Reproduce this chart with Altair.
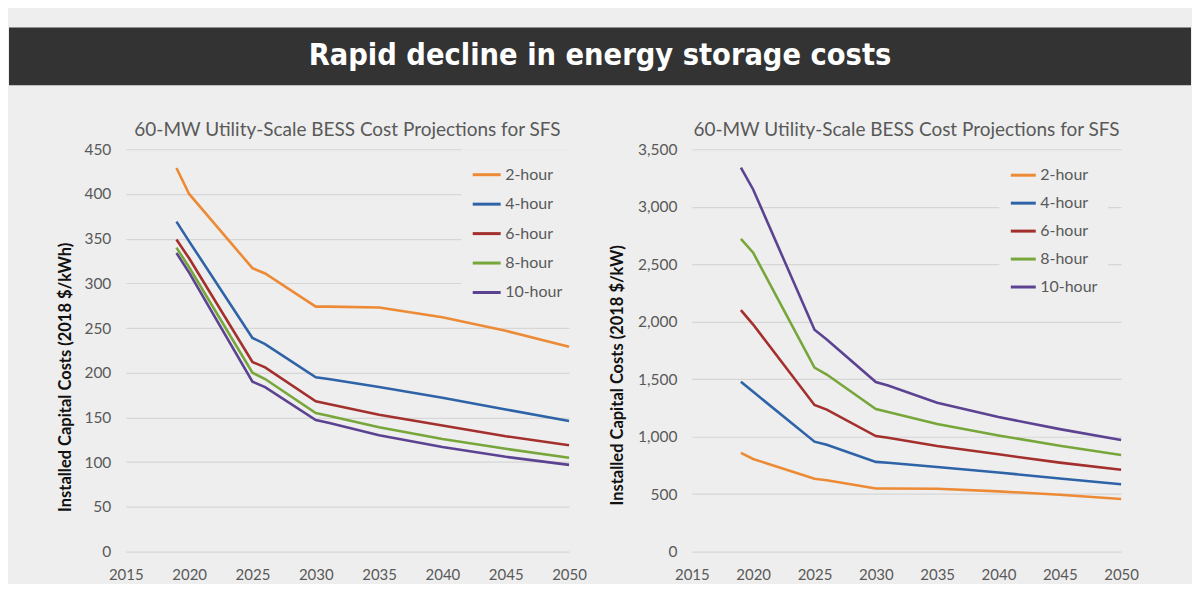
import altair as alt
import pandas as pd

# ---------------- data ----------------
years = [2019, 2020, 2025, 2026, 2030, 2031, 2035, 2040, 2045, 2050]
series_names = ["2-hour", "4-hour", "6-hour", "8-hour", "10-hour"]
colors = ["#ED8A35", "#2E63A8", "#A3302D", "#77A63B", "#5C4392"]
x_ticks = [2015, 2020, 2025, 2030, 2035, 2040, 2045, 2050]

# $/kWh (left panel)
kwh_2h = [429, 400, 317, 311, 274, 274, 273, 262, 247, 229]
kwh_4h = [369, 347, 239, 232, 195, 193, 184, 172, 159, 146]
kwh_6h = [349, 328, 212, 206, 168, 165, 153, 141, 129, 119]
kwh_8h = [340, 318, 200, 193, 155, 152, 139, 126, 115, 105]
kwh_10h = [334, 312, 190, 184, 147, 144, 130, 117, 106, 97]

# $/kW (right panel)
kw_2h = [858, 805, 634, 620, 549, 549, 546, 524, 494, 458]
kw_4h = [1478, 1390, 956, 930, 780, 772, 735, 688, 636, 585]
kw_6h = [2100, 1975, 1275, 1235, 1005, 990, 918, 846, 774, 712]
kw_8h = [2720, 2600, 1600, 1540, 1240, 1215, 1110, 1010, 920, 840]
kw_10h = [3340, 3150, 1930, 1845, 1475, 1445, 1295, 1170, 1065, 970]

main_title = "Rapid decline in energy storage costs"
panel_title = "60-MW Utility-Scale BESS Cost Projections for SFS"
left_ytitle = "Installed Capital Costs (2018 $/kWh)"
right_ytitle = "Installed Capital Costs (2018 $/kW)"


def long_df(cols):
    rows = []
    for name, vals in zip(series_names, cols):
        for yr, v in zip(years, vals):
            rows.append({"year": yr, "cost": v, "series": name})
    return pd.DataFrame(rows)


FONT = "Lato"
GREY = "#595959"
BG = "#eeeeee"


def panel(df, ytitle, ymax, ystep, yfmt, w, title_x, title_y, legend_x, legend_y,
          sym_size, row_pad):
    return alt.Chart(
        df,
        title=alt.TitleParams(panel_title, font=FONT, fontSize=19, fontWeight="normal",
                              color=GREY, anchor="middle", offset=2),
    ).mark_line(strokeWidth=2.6).encode(
        x=alt.X("year:Q",
                scale=alt.Scale(domain=[2015, 2050], nice=False, zero=False),
                axis=alt.Axis(values=x_ticks, format="d", title=None, grid=False,
                              domain=False, ticks=False, labelPadding=16,
                              labelFlush=False,
                              labelFont=FONT, labelFontSize=15, labelColor=GREY)),
        y=alt.Y("cost:Q",
                scale=alt.Scale(domain=[0, ymax], nice=False),
                axis=alt.Axis(values=list(range(0, ymax + 1, ystep)), format=yfmt,
                              title=ytitle, grid=True, gridColor="#d6d6d6", gridWidth=1.2,
                              domain=False, ticks=False, labelPadding=15,
                              labelFont=FONT, labelFontSize=15.5, labelColor=GREY,
                              titleFont=FONT, titleFontSize=16.5, titleFontWeight="bold",
                              titleColor="#111111", titleX=title_x, titleY=title_y,
                              titleAngle=270, titleAlign="center",
                              titleBaseline="middle")),
        color=alt.Color("series:N", sort=series_names,
                        scale=alt.Scale(domain=series_names, range=colors),
                        legend=alt.Legend(title=None, orient="none", legendX=legend_x,
                                          legendY=legend_y, symbolType="stroke",
                                          symbolSize=sym_size, symbolStrokeWidth=3,
                                          labelFont=FONT, labelFontSize=16,
                                          labelColor=GREY, labelOffset=3,
                                          rowPadding=row_pad, fillColor=BG, padding=10)),
    ).properties(width=w, height=403)


left = panel(long_df([kwh_2h, kwh_4h, kwh_6h, kwh_8h, kwh_10h]), left_ytitle,
             450, 50, "d", 444, -60, 228, 336, 0, 784, 5.5)
right = panel(long_df([kw_2h, kw_4h, kw_6h, kw_8h, kw_10h]), right_ytitle,
              3500, 500, ",d", 430, -74, 226, 308, 2, 625, 6)

spacer = alt.Chart(pd.DataFrame({"v": [0]})).mark_point(opacity=0, size=4).encode(
    x=alt.value(6), y=alt.value(5)).properties(width=25, height=10)

row = alt.hconcat(spacer, left, right, spacing=22).resolve_scale(
    color="independent").resolve_legend(color="independent")

banner_df = pd.DataFrame({"t": [main_title]})
banner_rect = alt.Chart(banner_df).mark_rect(color="#333333").encode(
    x=alt.value(0), x2=alt.value(1184), y=alt.value(18), y2=alt.value(76))
banner_text = alt.Chart(banner_df).mark_text(
    color="white", font="Liberation Sans Narrow, DejaVu Sans Condensed, sans-serif",
    fontSize=30.5, fontWeight="bold", align="center", baseline="middle").encode(
    x=alt.value(592), y=alt.value(47), text="t:N")
banner = alt.layer(banner_rect, banner_text).properties(width=1184, height=76)

chart = alt.vconcat(banner, row, spacing=34).properties(
    padding={"left": 0, "top": 0, "right": 0, "bottom": 0}, background=BG
).configure_view(stroke="transparent")

chart.save("out.html", embed_options={"renderer": "svg", "actions": False})
